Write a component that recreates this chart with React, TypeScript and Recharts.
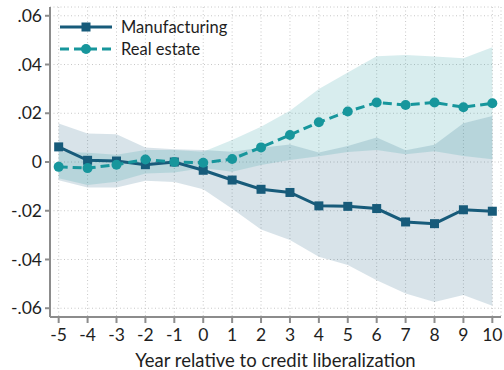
import React from "react";
import {
  ComposedChart,
  Area,
  Line,
  XAxis,
  YAxis,
  CartesianGrid,
} from "recharts";

// Event-time coefficients around credit liberalization, with 95% bands
const years = [-5, -4, -3, -2, -1, 0, 1, 2, 3, 4, 5, 6, 7, 8, 9, 10];

const manufacturing = [
  0.0062, 0.0007, 0.0004, -0.0011, 0.0, -0.0034, -0.0074, -0.0112, -0.0125,
  -0.018, -0.0182, -0.0191, -0.0246, -0.0253, -0.0196, -0.0202,
];
const manufacturingLow = [
  -0.0075, -0.0105, -0.0105, -0.0077, -0.0082, -0.0112, -0.0192, -0.0277,
  -0.032, -0.0389, -0.0423, -0.0485, -0.054, -0.0574, -0.0546, -0.059,
];
const manufacturingHigh = [
  0.0158, 0.0117, 0.0114, 0.006, 0.0052, 0.0049, 0.0042, 0.0058, 0.0072,
  0.0039, 0.0066, 0.0101, 0.0048, 0.0071, 0.0159, 0.0189,
];

const realEstate = [
  -0.002, -0.0025, -0.0011, 0.001, 0.0, -0.0003, 0.0012, 0.006, 0.0111,
  0.0163, 0.0207, 0.0244, 0.0234, 0.0244, 0.0225, 0.0241,
];
const realEstateLow = [
  -0.0067, -0.0094, -0.0081, -0.0047, -0.0043, -0.0025, -0.004, -0.0012,
  0.0008, 0.0024, 0.0041, 0.0049, 0.0032, 0.0044, 0.0025, 0.0011,
];
const realEstateHigh = [
  0.0042, 0.0038, 0.003, 0.0049, 0.0049, 0.0042, 0.009, 0.0145, 0.021, 0.03,
  0.0367, 0.0434, 0.0439, 0.0433, 0.0426, 0.0471,
];

const xTicks = years;
const yTicks = [-0.06, -0.04, -0.02, 0, 0.02, 0.04, 0.06];
const yTickLabels = ["-.06", "-.04", "-.02", "0", ".02", ".04", ".06"];

const seriesNames = ["Manufacturing", "Real estate"];
const xAxisTitle = "Year relative to credit liberalization";

const MANUF = "#175b7a";
const REAL = "#17969c";
const AXIS = "#8c8c8c";
const FONT = "Lato, 'Open Sans', sans-serif";

const data = years.map((year, i) => ({
  year,
  manufacturing: manufacturing[i],
  realEstate: realEstate[i],
  manufBand: [manufacturingLow[i], manufacturingHigh[i]],
  realBand: [realEstateLow[i], realEstateHigh[i]],
}));

const SquareDot = (props: any) => {
  const { cx, cy, index } = props;
  if (cx == null || cy == null) return null;
  return (
    <rect
      key={`sq-${index}`}
      x={cx - 4.5}
      y={cy - 4.5}
      width={9}
      height={9}
      fill={MANUF}
    />
  );
};

const CircleDot = (props: any) => {
  const { cx, cy, index } = props;
  if (cx == null || cy == null) return null;
  return <circle key={`ci-${index}`} cx={cx} cy={cy} r={5} fill={REAL} />;
};

const LegendBox = () => (
  <div
    style={{
      position: "absolute",
      left: 56,
      top: 17,
      fontFamily: FONT,
      fontSize: 16.5,
      color: "#1e1e1e",
      lineHeight: "20px",
    }}
  >
    <div style={{ display: "flex", alignItems: "center", height: 20 }}>
      <svg width={60} height={20}>
        <line x1={4} y1={10} x2={56} y2={10} stroke={MANUF} strokeWidth={3} />
        <rect x={25.5} y={5.5} width={9} height={9} fill={MANUF} />
      </svg>
      <span style={{ marginLeft: 5 }}>{seriesNames[0]}</span>
    </div>
    <div style={{ display: "flex", alignItems: "center", height: 20, marginTop: 2 }}>
      <svg width={60} height={20}>
        <line
          x1={4}
          y1={10}
          x2={56}
          y2={10}
          stroke={REAL}
          strokeWidth={3}
          strokeDasharray="9 5"
        />
        <circle cx={30} cy={10} r={5} fill={REAL} />
      </svg>
      <span style={{ marginLeft: 5 }}>{seriesNames[1]}</span>
    </div>
  </div>
);

export default function App() {
  const tickStyle = { fontFamily: FONT, fontSize: 17.5, fill: "#1e1e1e" };
  return (
    <div
      style={{
        position: "absolute",
        left: 0,
        top: 0,
        width: 504,
        height: 370,
        background: "#fff",
      }}
    >
      <ComposedChart
        width={504}
        height={370}
        data={data}
        margin={{ top: 7, right: 3, bottom: 0, left: 0 }}
      >
        <CartesianGrid
          stroke="#c8c8c8"
          strokeDasharray="1 2.5"
          strokeWidth={1}
        />
        <XAxis
          dataKey="year"
          type="number"
          domain={[-5.3, 10.3]}
          ticks={xTicks}
          interval={0}
          height={53}
          tickSize={6}
          tickMargin={6}
          stroke={AXIS}
          strokeWidth={2}
          tick={tickStyle}
          label={{
            value: xAxisTitle,
            position: "insideBottom",
            offset: 3,
            style: { fontFamily: FONT, fontSize: 18.5, fill: "#1e1e1e" },
          }}
        />
        <YAxis
          type="number"
          domain={[-0.0636, 0.0636]}
          ticks={yTicks}
          interval={0}
          width={50}
          tickSize={5}
          tickMargin={3}
          stroke={AXIS}
          strokeWidth={2}
          tick={tickStyle}
          tickFormatter={(v: number) => yTickLabels[yTicks.indexOf(v)] ?? String(v)}
        />
        <Area
          type="linear"
          dataKey="manufBand"
          stroke="none"
          fill={MANUF}
          fillOpacity={0.17}
          isAnimationActive={false}
          activeDot={false}
        />
        <Area
          type="linear"
          dataKey="realBand"
          stroke="none"
          fill={REAL}
          fillOpacity={0.17}
          isAnimationActive={false}
          activeDot={false}
        />
        <Line
          type="linear"
          dataKey="manufacturing"
          stroke={MANUF}
          strokeWidth={3}
          dot={SquareDot}
          activeDot={false}
          isAnimationActive={false}
        />
        <Line
          type="linear"
          dataKey="realEstate"
          stroke={REAL}
          strokeWidth={3}
          strokeDasharray="9 5"
          dot={CircleDot}
          activeDot={false}
          isAnimationActive={false}
        />
      </ComposedChart>
      <LegendBox />
    </div>
  );
}
